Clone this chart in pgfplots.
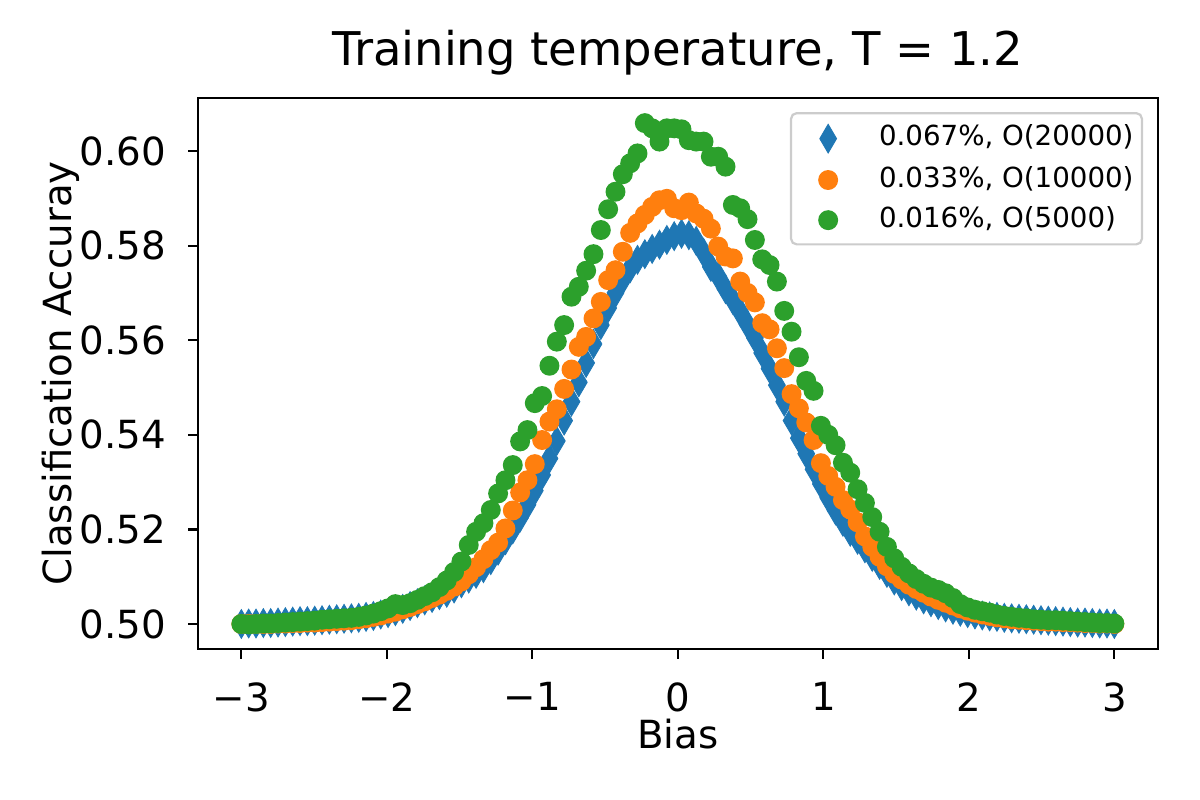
\documentclass[border=0pt]{standalone}
\usepackage{fontspec}
\setmainfont{DejaVu Sans}
\usepackage{pgfplots}
\usepackage{pgfplotstable}
\pgfplotsset{compat=1.18}
\definecolor{tabblue}{HTML}{1F77B4}
\definecolor{taborange}{HTML}{FF7F0E}
\definecolor{tabgreen}{HTML}{2CA02C}
\pgfplotstableread{
x b o g
-3.0000 0.5000 0.5000 0.5000
-2.9496 0.5001 0.5000 0.4999
-2.8992 0.5001 0.5000 0.5000
-2.8487 0.5002 0.5000 0.5001
-2.7983 0.5002 0.5000 0.5001
-2.7479 0.5003 0.5001 0.5002
-2.6975 0.5004 0.5001 0.5003
-2.6471 0.5005 0.5002 0.5004
-2.5966 0.5006 0.5002 0.5005
-2.5462 0.5006 0.5003 0.5006
-2.4958 0.5007 0.5003 0.5007
-2.4454 0.5008 0.5004 0.5009
-2.3950 0.5009 0.5005 0.5010
-2.3445 0.5010 0.5006 0.5011
-2.2941 0.5011 0.5007 0.5012
-2.2437 0.5012 0.5008 0.5013
-2.1933 0.5013 0.5010 0.5015
-2.1429 0.5015 0.5012 0.5018
-2.0924 0.5017 0.5015 0.5022
-2.0420 0.5020 0.5018 0.5027
-1.9916 0.5023 0.5022 0.5033
-1.9412 0.5027 0.5026 0.5042
-1.8908 0.5032 0.5031 0.5040
-1.8403 0.5038 0.5036 0.5044
-1.7899 0.5044 0.5042 0.5051
-1.7395 0.5050 0.5048 0.5059
-1.6891 0.5055 0.5055 0.5067
-1.6387 0.5061 0.5062 0.5078
-1.5882 0.5066 0.5070 0.5092
-1.5378 0.5075 0.5079 0.5110
-1.4874 0.5086 0.5090 0.5132
-1.4370 0.5096 0.5105 0.5167
-1.3866 0.5106 0.5120 0.5195
-1.3361 0.5118 0.5137 0.5213
-1.2857 0.5135 0.5156 0.5241
-1.2353 0.5155 0.5172 0.5276
-1.1849 0.5177 0.5202 0.5304
-1.1345 0.5200 0.5240 0.5336
-1.0840 0.5225 0.5278 0.5386
-1.0336 0.5252 0.5304 0.5410
-0.9832 0.5282 0.5338 0.5467
-0.9328 0.5315 0.5389 0.5482
-0.8824 0.5350 0.5428 0.5546
-0.8319 0.5387 0.5454 0.5597
-0.7815 0.5430 0.5497 0.5632
-0.7311 0.5470 0.5538 0.5692
-0.6807 0.5511 0.5586 0.5713
-0.6303 0.5552 0.5607 0.5747
-0.5798 0.5592 0.5646 0.5782
-0.5294 0.5632 0.5681 0.5833
-0.4790 0.5668 0.5727 0.5877
-0.4286 0.5700 0.5748 0.5914
-0.3782 0.5728 0.5787 0.5951
-0.3277 0.5752 0.5827 0.5974
-0.2773 0.5770 0.5847 0.5995
-0.2269 0.5782 0.5865 0.6059
-0.1765 0.5793 0.5882 0.6048
-0.1261 0.5802 0.5896 0.6020
-0.0756 0.5812 0.5899 0.6048
-0.0252 0.5820 0.5879 0.6048
0.0252 0.5825 0.5875 0.6046
0.0756 0.5822 0.5891 0.6023
0.1261 0.5810 0.5868 0.6020
0.1765 0.5785 0.5857 0.6020
0.2269 0.5755 0.5836 0.5988
0.2773 0.5735 0.5798 0.5988
0.3277 0.5708 0.5777 0.5967
0.3782 0.5685 0.5773 0.5886
0.4286 0.5660 0.5724 0.5879
0.4790 0.5633 0.5700 0.5856
0.5294 0.5605 0.5680 0.5812
0.5798 0.5573 0.5636 0.5771
0.6303 0.5540 0.5623 0.5759
0.6807 0.5505 0.5583 0.5724
0.7311 0.5470 0.5541 0.5662
0.7815 0.5430 0.5486 0.5618
0.8319 0.5393 0.5456 0.5564
0.8824 0.5360 0.5426 0.5514
0.9328 0.5327 0.5389 0.5493
0.9832 0.5296 0.5340 0.5419
1.0336 0.5267 0.5313 0.5400
1.0840 0.5240 0.5290 0.5378
1.1345 0.5216 0.5262 0.5341
1.1849 0.5195 0.5242 0.5320
1.2353 0.5178 0.5215 0.5285
1.2857 0.5160 0.5185 0.5256
1.3361 0.5142 0.5163 0.5226
1.3866 0.5125 0.5142 0.5195
1.4370 0.5108 0.5122 0.5163
1.4874 0.5092 0.5106 0.5139
1.5378 0.5080 0.5094 0.5121
1.5882 0.5069 0.5083 0.5107
1.6387 0.5060 0.5074 0.5095
1.6891 0.5052 0.5066 0.5085
1.7395 0.5046 0.5058 0.5077
1.7899 0.5040 0.5051 0.5072
1.8403 0.5035 0.5045 0.5065
1.8908 0.5030 0.5039 0.5055
1.9412 0.5026 0.5033 0.5042
1.9916 0.5023 0.5028 0.5035
2.0420 0.5020 0.5024 0.5030
2.0924 0.5018 0.5020 0.5027
2.1429 0.5016 0.5017 0.5024
2.1933 0.5015 0.5014 0.5020
2.2437 0.5013 0.5012 0.5017
2.2941 0.5012 0.5010 0.5015
2.3445 0.5011 0.5009 0.5013
2.3950 0.5010 0.5008 0.5012
2.4454 0.5009 0.5007 0.5010
2.4958 0.5008 0.5006 0.5009
2.5462 0.5007 0.5005 0.5008
2.5966 0.5006 0.5005 0.5008
2.6471 0.5005 0.5004 0.5007
2.6975 0.5004 0.5004 0.5006
2.7479 0.5003 0.5003 0.5005
2.7983 0.5003 0.5002 0.5004
2.8487 0.5002 0.5002 0.5003
2.8992 0.5001 0.5001 0.5002
2.9496 0.5001 0.5001 0.5002
3.0000 0.5000 0.5000 0.5001
}\data

\begin{document}
\begin{tikzpicture}
\useasboundingbox (0,0) rectangle (433.62pt,289.08pt);
\begin{axis}[
  at={(71.44pt,54.46pt)}, anchor=south west,
  scale only axis, width=347.0pt, height=199.3pt,
  xmin=-3.3, xmax=3.3, ymin=0.49465, ymax=0.61127,
  line width=0.8pt,
  tick pos=left, tick align=outside,
  major tick length=3.5pt,
  every tick/.style={black, line width=0.8pt},
  xtick={-3,-2,-1,0,1,2,3},
  xticklabels={−3,−2,−1,0,1,2,3},
  ytick={0.50,0.52,0.54,0.56,0.58,0.60},
  yticklabels={0.50,0.52,0.54,0.56,0.58,0.60},
  xticklabel style={font=\fontsize{14}{16.8}\selectfont, inner sep=0pt, anchor=north, yshift=-8.1pt},
  yticklabel style={font=\fontsize{14}{16.8}\selectfont, inner sep=0pt, anchor=east, xshift=-7.6pt},
  title={Training temperature, T = 1.2},
  title style={font=\fontsize{16.8}{20}\selectfont, at={(axis description cs:0.5,1.029)}, anchor=base, inner sep=0pt},
  xlabel={Bias},
  xlabel style={font=\fontsize{14}{16.8}\selectfont, at={(axis description cs:0.5,-0.1807)}, anchor=base, inner sep=0pt},
  ylabel={Classification Accuray},
  ylabel style={font=\fontsize{14}{16.8}\selectfont, at={(axis description cs:-0.1314,0.5)}, anchor=base, inner sep=0pt},
  legend cell align=left,
  legend image code/.code={\path (0pt,-2pt) (20pt,2pt); \draw[mark repeat=2,mark phase=2,#1] plot coordinates {(0pt,0pt)(10pt,0pt)(20pt,0pt)};},
  legend style={at={(axis description cs:0.9844,0.974)}, anchor=north east,
    draw=black!20, line width=0.8pt, rounded corners=2pt,
    fill=white,
    font=\fontsize{10}{12}\selectfont,
    inner xsep=3pt, inner ysep=4pt, row sep=5pt, column sep=8pt,
    nodes={inner sep=0pt, text height=7.3pt, text depth=2.2pt}},
]
\addplot[only marks, color=tabblue, mark=diamond*, mark size=5.2pt,
  mark options={xscale=0.78, line width=0.3pt, fill=tabblue, draw=tabblue}]
  table[x=x, y=b]{\data};
\addlegendentry{0.067\%, O(20000)}
\addplot[only marks, color=taborange, mark=*, mark size=3.35pt,
  mark options={line width=0.5pt, fill=taborange, draw=taborange}]
  table[x=x, y=o]{\data};
\addlegendentry{0.033\%, O(10000)}
\addplot[only marks, color=tabgreen, mark=*, mark size=3.35pt,
  mark options={line width=0.5pt, fill=tabgreen, draw=tabgreen}]
  table[x=x, y=g]{\data};
\addlegendentry{0.016\%, O(5000)}
\end{axis}
\end{tikzpicture}
\end{document}
